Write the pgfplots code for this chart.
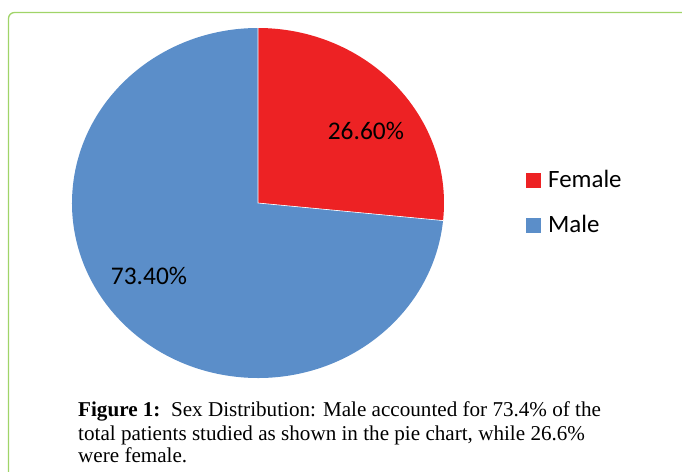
\documentclass[border=0pt]{standalone}
\usepackage{pgfplots}
\pgfplotsset{compat=1.18}
\usepackage{pgfplotstable}
\usepackage{fontspec}
\setmainfont{Liberation Serif}
\newfontfamily\carlito{Carlito}
\definecolor{femred}{RGB}{237,34,36}
\definecolor{maleblue}{RGB}{91,142,201}
\definecolor{framegreen}{RGB}{160,212,104}

\pgfplotstableread{
label value
Female 26.6
Male 73.4
}\piedata

\begin{document}
\begin{tikzpicture}
\useasboundingbox (0,0) rectangle (682bp,-472bp);
\begin{scope}[x=1bp,y=-1bp]
\clip (0,0) rectangle (682,472);
\draw[framegreen, line width=1.3bp, rounded corners=6bp] (8.5,700) -- (8.5,12.5) -- (720,12.5);
\end{scope}
\pgfplotstablegetelem{0}{value}\of\piedata \let\fem\pgfplotsretval
\pgfplotstablegetelem{1}{value}\of\piedata \let\mal\pgfplotsretval
\pgfmathsetmacro\aA{90}
\pgfmathsetmacro\aB{90-3.6*\fem}
\pgfmathsetmacro\aC{\aB-3.6*\mal}
\pgfmathsetmacro\xA{cos(\aA)}
\pgfmathsetmacro\yA{sin(\aA)}
\pgfmathsetmacro\xB{cos(\aB)}
\pgfmathsetmacro\yB{sin(\aB)}
\begin{axis}[at={(258bp,-203bp)}, anchor=center, scale only axis,
  width=372bp, height=350bp, xmin=-1, xmax=1, ymin=-1, ymax=1,
  axis lines=none, clip=false]
\fill[femred] (axis cs:0,0) -- (axis cs:\xA,\yA) arc[start angle=\aA, end angle=\aB, x radius=186bp, y radius=175bp] -- cycle;
\fill[maleblue] (axis cs:0,0) -- (axis cs:\xB,\yB) arc[start angle=\aB, end angle=\aC, x radius=186bp, y radius=175bp] -- cycle;
\draw[white, line width=0.6bp] (axis cs:\xA,\yA) -- (axis cs:0,0) -- (axis cs:\xB,\yB);
\node[font=\carlito\fontsize{25.5}{28}\selectfont] at (axis cs:0.58,0.41) {26.60\%};
\node[font=\carlito\fontsize{25.5}{28}\selectfont] at (axis cs:-0.586,-0.417) {73.40\%};
\end{axis}
\begin{scope}[x=1bp,y=-1bp]
\fill[femred] (526,173) rectangle (541,188);
\node[anchor=base west, inner sep=0, font=\carlito\fontsize{25}{28}\selectfont] at (548,187.5) {Female};
\fill[maleblue] (526,218) rectangle (541,233);
\node[anchor=base west, inner sep=0, font=\carlito\fontsize{25}{28}\selectfont] at (548,232) {Male};
\begin{scope}[every node/.style={anchor=base west, inner sep=0, font=\fontsize{21.2}{24}\selectfont}]
\node at (78,416) {\textbf{Figure 1:}\ \ Sex Distribution: Male accounted for 73.4\% of the};
\node at (78,440) {total patients studied as shown in the pie chart, while 26.6\%};
\node at (78,462) {were female.};
\end{scope}
\end{scope}
\end{tikzpicture}
\end{document}
